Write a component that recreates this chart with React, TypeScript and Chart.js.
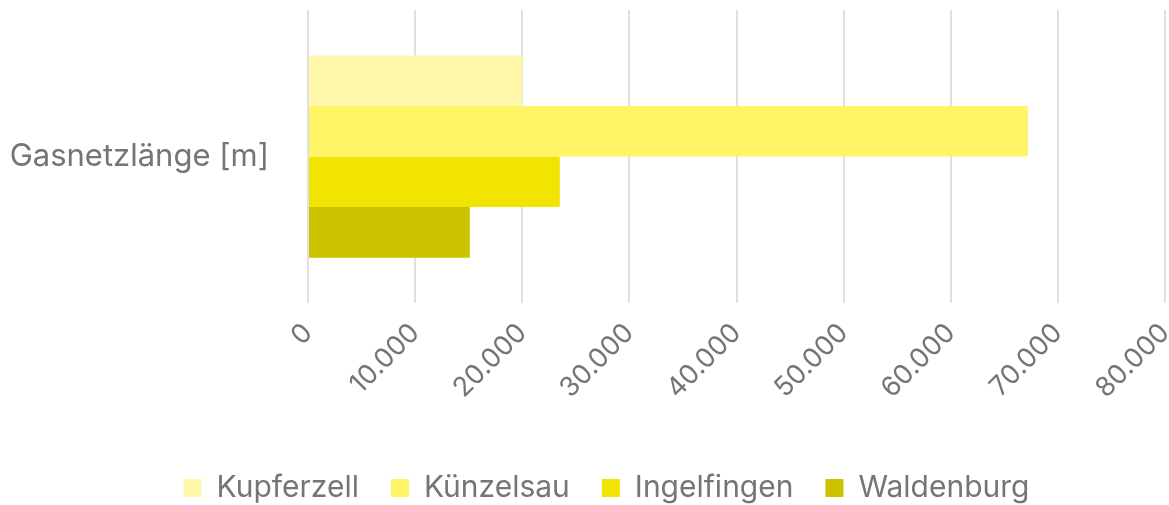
import React, { useEffect, useRef } from "react";
import { Chart, registerables } from "chart.js";

Chart.register(...registerables);

const categories = ["Gasnetzlänge [m]"];
const seriesNames = ["Kupferzell", "Künzelsau", "Ingelfingen", "Waldenburg"];
const seriesValues = [[20000], [67200], [23500], [15100]];
const seriesColors = ["#FFF7AA", "#FFF466", "#F0E400", "#CCC200"];
const xTicks = [0, 10000, 20000, 30000, 40000, 50000, 60000, 70000, 80000];

export default function App() {
  const ref = useRef<HTMLCanvasElement>(null);
  useEffect(() => {
    document.body.style.margin = "0";
    const ctx = ref.current!;
    const chart = new Chart(ctx, {
      type: "bar",
      data: {
        labels: categories,
        datasets: seriesNames.map((n, i) => ({
          label: n,
          data: seriesValues[i],
          backgroundColor: seriesColors[i],
          borderWidth: 0,
        })),
      },
      plugins: [
        {
          id: "unclipY",
          afterLayout(c: any) {
            c.scales.y.left = 0;
          },
        },
      ],
      options: {
        indexAxis: "y",
        animation: false,
        responsive: false,
        maintainAspectRatio: false,
        layout: { padding: { left: 44, right: 0, top: 10, bottom: -8 } },
        datasets: { bar: { categoryPercentage: 0.69, barPercentage: 1 } },
        scales: {
          x: {
            min: 0,
            max: 80000,
            afterBuildTicks: (axis: any) => {
              axis.ticks = xTicks.map((v) => ({ value: v }));
            },
            afterFit: (axis: any) => {
              axis.paddingRight = 4;
              axis.height += 22;
            },
            grid: { color: "#e0e0e0", lineWidth: 2, drawTicks: false },
            border: { display: false },
            ticks: {
              color: "#757575",
              font: { family: "Inter", size: 27 },
              maxRotation: 45,
              minRotation: 45,
              padding: 14,
              callback: (v: any) => Number(v).toLocaleString("de-DE"),
            },
          },
          y: {
            afterFit: (axis: any) => {
              axis.width = 264;
              axis.paddingTop = 0;
              axis.paddingBottom = 0;
            },
            grid: { display: false },
            border: { display: false },
            ticks: {
              color: "#757575",
              font: { family: "Inter", size: 31 },
              padding: 31,
            },
          },
        },
        plugins: {
          legend: {
            position: "bottom",
            labels: {
              color: "#757575",
              font: { family: "Inter", size: 30 },
              boxWidth: 18,
              boxHeight: 18,
              padding: 32,
            },
          },
          tooltip: { enabled: false },
        },
      },
    } as any);
    return () => chart.destroy();
  }, []);
  return (
    <div style={{ width: 1169, height: 505 }}>
      <canvas ref={ref} width={1169} height={505} style={{ display: "block" }} />
    </div>
  );
}
